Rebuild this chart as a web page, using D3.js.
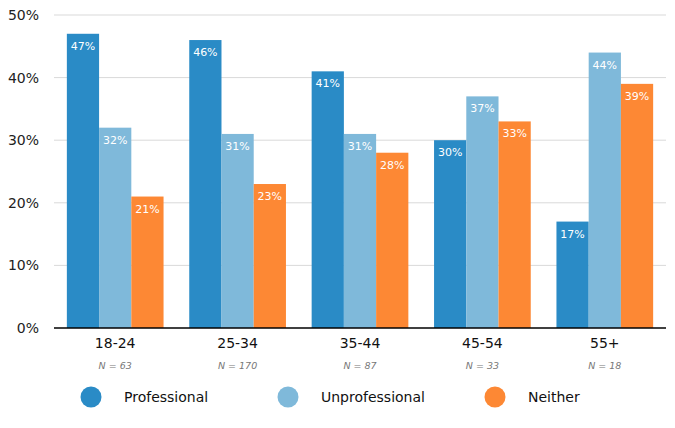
<!DOCTYPE html>
<html lang="en">
<head>
<meta charset="UTF-8" />
<title>Opinion by age group</title>
<script src="https://d3js.org/d3.v7.min.js"></script>
<style>
  body { margin: 0; background: #fff; }
  text { font-family: "DejaVu Sans", Verdana, sans-serif; }
</style>
</head>
<body>
<div id="chart"></div>
<script>
// data
const ageGroups = ["18-24", "25-34", "35-44", "45-54", "55+"];
const sampleSizes = [63, 170, 87, 33, 18];
const seriesNames = ["Professional", "Unprofessional", "Neither"];
const professional = [47, 46, 41, 30, 17];
const unprofessional = [32, 31, 31, 37, 44];
const neither = [21, 23, 28, 33, 39];
const yTicks = [0, 10, 20, 30, 40, 50];

const colors = ["#2a8bc6", "#7fb9da", "#fd8834"];
const seriesValues = [professional, unprofessional, neither];

const width = 675, height = 428;
const margin = { top: 15, right: 9, bottom: 100, left: 54 };

const svg = d3.select("#chart").append("svg")
  .attr("width", width)
  .attr("height", height);

const x = d3.scaleBand()
  .domain(ageGroups)
  .range([margin.left, width - margin.right])
  .paddingInner(0.21)
  .paddingOuter(0.105);

const x1 = d3.scaleBand()
  .domain(seriesNames)
  .range([0, x.bandwidth()]);

const y = d3.scaleLinear()
  .domain([0, 50])
  .range([height - margin.bottom, margin.top]);

// gridlines
svg.append("g")
  .selectAll("line")
  .data(yTicks.filter(t => t > 0))
  .join("line")
  .attr("x1", margin.left)
  .attr("x2", width - margin.right)
  .attr("y1", d => y(d))
  .attr("y2", d => y(d))
  .attr("stroke", "#d9d9d9")
  .attr("stroke-width", 1);

// y labels
svg.append("g")
  .selectAll("text")
  .data(yTicks)
  .join("text")
  .attr("x", 39)
  .attr("y", d => y(d))
  .attr("dy", "0.35em")
  .attr("text-anchor", "end")
  .attr("font-size", 14)
  .attr("fill", "#222")
  .text(d => d + "%");

// bars
const rows = ageGroups.map((g, i) => seriesNames.map((s, j) => ({ group: g, series: s, value: seriesValues[j][i], color: colors[j] })));

const groups = svg.append("g")
  .selectAll("g")
  .data(rows)
  .join("g")
  .attr("transform", (d, i) => `translate(${x(ageGroups[i])},0)`);

groups.selectAll("rect")
  .data(d => d)
  .join("rect")
  .attr("x", d => x1(d.series))
  .attr("y", d => y(d.value))
  .attr("width", x1.bandwidth())
  .attr("height", d => y(0) - y(d.value))
  .attr("fill", d => d.color);

groups.selectAll("text")
  .data(d => d)
  .join("text")
  .attr("x", d => x1(d.series) + x1.bandwidth() / 2)
  .attr("y", d => y(d.value) + 16)
  .attr("text-anchor", "middle")
  .attr("font-size", 11)
  .attr("fill", "#fff")
  .text(d => d.value + "%");

// baseline
svg.append("line")
  .attr("x1", margin.left)
  .attr("x2", width - margin.right)
  .attr("y1", y(0))
  .attr("y2", y(0))
  .attr("stroke", "#000")
  .attr("stroke-width", 1.5);

// category labels and sample sizes
svg.append("g")
  .selectAll("text")
  .data(ageGroups)
  .join("text")
  .attr("x", d => x(d) + x.bandwidth() / 2)
  .attr("y", 348)
  .attr("text-anchor", "middle")
  .attr("font-size", 14)
  .attr("fill", "#111")
  .text(d => d);

svg.append("g")
  .selectAll("text")
  .data(sampleSizes)
  .join("text")
  .attr("x", (d, i) => x(ageGroups[i]) + x.bandwidth() / 2)
  .attr("y", 369)
  .attr("text-anchor", "middle")
  .attr("font-size", 9.5)
  .attr("font-style", "italic")
  .attr("fill", "#777")
  .text(d => "N = " + d);

// legend
const legendX = [91, 288, 495];
const legend = svg.append("g")
  .selectAll("g")
  .data(seriesNames)
  .join("g")
  .attr("transform", (d, i) => `translate(${legendX[i]},397)`);

legend.append("circle")
  .attr("r", 10.5)
  .attr("fill", (d, i) => colors[i]);

legend.append("text")
  .attr("x", 33)
  .attr("dy", "0.35em")
  .attr("font-size", 14)
  .attr("fill", "#111")
  .text(d => d);
</script>
</body>
</html>
